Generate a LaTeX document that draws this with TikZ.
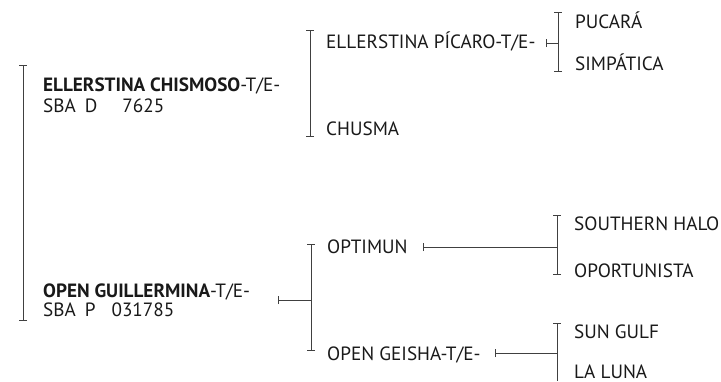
\documentclass[tikz,border=0pt]{standalone}
\usepackage{fontspec}
\setmainfont{PT Sans}
\usetikzlibrary{arrows.meta}
\tikzset{
  horse/.style={anchor=base west,inner sep=0pt,text=black!90},
  bracket/.style={draw=black!75,line width=1pt,{Bar[width=8pt]}-{Bar[width=8pt]}},
  openbracket/.style={draw=black!75,line width=1pt,{Bar[width=8pt]}-},
  feed/.style={draw=black!75,line width=1pt,{Bar[width=8pt]}-},
}
\begin{document}
\begin{tikzpicture}
[x=1pt,y=-1pt,font=\fontsize{19.2}{21}\selectfont]
\useasboundingbox (0,0) rectangle (721,381);
% parents
\node[horse] (sire) at (43,91) {\textbf{ELLERSTINA CHISMOSO}-T/E-};
\node[horse] (sirereg) at (43,112) {SBA\hspace{9pt}D\hspace{25pt}7625};
\node[horse] (dam) at (43,297) {\textbf{OPEN GUILLERMINA}-T/E-};
\node[horse] (damreg) at (43,316) {SBA\hspace{9pt}P\hspace{16pt}031785};
\coordinate (b1t) at (23,65);
\coordinate (b1b) at (23,321);
\draw[bracket] (b1t) -- (b1b);
% grandparents
\node[horse] (picaro) at (326,48) {ELLERSTINA PÍCARO-T/E-};
\node[horse] (chusma) at (326,135) {CHUSMA};
\coordinate (b2t) at (310,30);
\coordinate (b2b) at (310,137);
\draw[bracket] (b2t) -- (b2b);
\node[horse] (optimun) at (327,253) {OPTIMUN};
\node[horse] (geisha) at (327,360) {OPEN GEISHA-T/E-};
\coordinate (b3t) at (311,244);
\coordinate (b3b) at (311,351);
\draw[bracket] (b3t) -- (b3b);
\coordinate (f3) at (278,300);
\draw[feed] (f3) -- (f3 -| b3t);
% great-grandparents
\node[horse] (pucara) at (575,28) {PUCARÁ};
\node[horse] (simpatica) at (575,70) {SIMPÁTICA};
\coordinate (b4t) at (558,12);
\coordinate (b4b) at (558,72);
\draw[bracket] (b4t) -- (b4b);
\coordinate (f4) at (546,43);
\draw[feed] (f4) -- (f4 -| b4t);
\node[horse] (halo) at (574,230) {SOUTHERN HALO};
\node[horse] (oportunista) at (574,277) {OPORTUNISTA};
\coordinate (b5t) at (557,215);
\coordinate (b5b) at (557,275);
\draw[bracket] (b5t) -- (b5b);
\coordinate (f5) at (423,247);
\draw[feed] (f5) -- (f5 -| b5t);
\node[horse] (gulf) at (574,338) {SUN GULF};
\node[horse] (luna) at (574,378) {LA LUNA};
\coordinate (b6t) at (557,323);
\coordinate (b6b) at (557,381);
\draw[openbracket] (b6t) -- (b6b);
\coordinate (f6) at (495,353);
\draw[feed] (f6) -- (f6 -| b6t);
\end{tikzpicture}
\end{document}
